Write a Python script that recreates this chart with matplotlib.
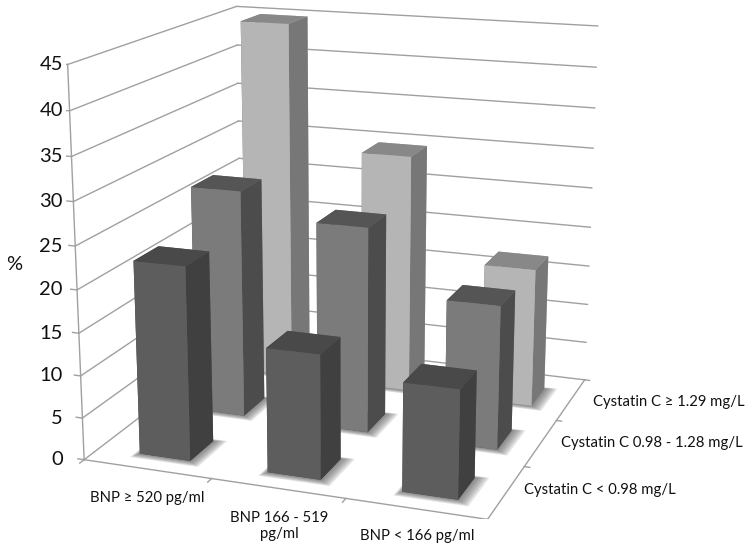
#!/usr/bin/env python3
import matplotlib
matplotlib.use("Agg")
import matplotlib.pyplot as plt
from mpl_toolkits.mplot3d import proj3d

bnp_labels = ["BNP \u2265 520 pg/ml", "BNP 166 - 519\npg/ml", "BNP < 166 pg/ml"]
cys_labels = ["Cystatin C < 0.98 mg/L", "Cystatin C 0.98 - 1.28 mg/L", "Cystatin C \u2265 1.29 mg/L"]
z_ticks = [0, 5, 10, 15, 20, 25, 30, 35, 40, 45]

# rows go front to back, columns are the BNP groups
low_cys = [22.8, 14.5, 12.5]
mid_cys = [27.7, 24.8, 17.2]
high_cys = [45, 29.8, 17.2]
rows = [low_cys, mid_cys, high_cys]

# top, front, side colours per row
row_colors = [("#494949", "#5d5d5d", "#404040"),
              ("#555555", "#7b7b7b", "#4c4c4c"),
              ("#888888", "#b5b5b5", "#777777")]

plt.rcParams['font.family'] = ['Lato', 'DejaVu Sans']

W, H = 751, 551
fig = plt.figure(figsize=(W / 100, H / 100), dpi=100)
ax = fig.add_axes([66 / W, 32 / H, H / W, 1], projection='3d', proj_type='persp', focal_length=0.611)
ax.computed_zorder = False
ax.set_axis_off()
ax.view_init(elev=15.5, azim=-70)
ax.set_xlim(0, 3)
ax.set_ylim(0, 3)
ax.set_zlim(0, 45)
ax.set_box_aspect((1.36, 1.3, 1.3), zoom=1.2)

grid = "#a0a0a0"
for z in z_ticks:
    ax.plot([0, 0], [0, 3], [z, z], color=grid, lw=1, zorder=1)
    ax.plot([0, 3], [3, 3], [z, z], color=grid, lw=1, zorder=1)
    ax.plot([-0.05, 0], [0, 0], [z, z], color=grid, lw=1, zorder=1)
ax.plot([0, 0], [0, 0], [0, 45], color=grid, lw=1, zorder=1)
ax.plot([0, 3], [0, 0], [0, 0], color=grid, lw=1, zorder=1)
ax.plot([3, 3], [0, 3], [0, 0], color=grid, lw=1, zorder=1)

for i in range(4):
    ax.plot([i, i], [0, -0.07], [0, 0], color=grid, lw=1, zorder=1)
    ax.plot([3, 3.04], [i, i], [0, 0], color=grid, lw=1, zorder=1)

width = 0.40
depth = 0.42
order = 2
for r in [2, 1, 0]:
    for c in range(3):
        top, front, side = row_colors[r]
        x0 = c + 0.325 + 0.01 * r
        y0 = r + 0.25
        # soft shadow on the floor
        for grow in [0.12, 0.10, 0.08, 0.06, 0.04, 0.02]:
            ax.bar3d(x0 - grow * 0.3, y0 - grow * 0.7, 0, width + grow * 1.1, depth + grow, 0.01,
                     color="#555555", alpha=0.08, shade=False, edgecolor='none', zorder=order)
            order += 1
        # bar3d face order: bottom, top, front, back, left, right
        ax.bar3d(x0, y0, 0, width, depth, rows[r][c],
                 color=[top, top, front, front, side, side], shade=False, zorder=order)
        order += 1


def label(px, py, text, ha='center', size=10.7):
    fig.text(px / W, 1 - py / H, text, ha=ha, va='center', fontsize=size, linespacing=1.2, color="#111111")


# value labels sit in a straight column, at the height of their tick
fig.canvas.draw()
for z in z_ticks:
    x2, y2, _ = proj3d.proj_transform(0, 0, z, ax.get_proj())
    tick_y = ax.transData.transform((x2, y2))[1]
    fig.text(63 / W, tick_y / H, str(z), ha='right', va='center', fontsize=14.5, color="#111111")

label(147, 498, bnp_labels[0])
label(279, 526, bnp_labels[1])
label(417, 536, bnp_labels[2])
label(524, 490, cys_labels[0], ha='left')
label(561, 443, cys_labels[1], ha='left')
label(593, 402, cys_labels[2], ha='left')
label(14, 265, "%", size=14.5)

fig.savefig("out.png", dpi=100)
